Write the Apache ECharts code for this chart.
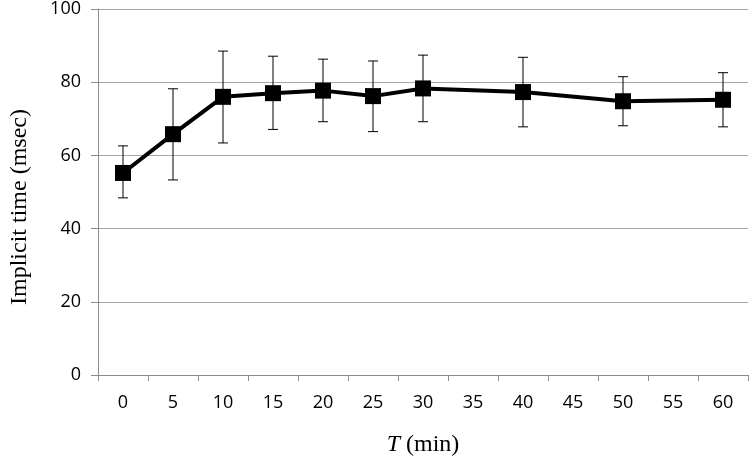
<!DOCTYPE html>
<html>
<head>
<meta charset="utf-8">
<script src="https://cdn.jsdelivr.net/npm/echarts@6/dist/echarts.min.js"></script>
<style>
  html, body { margin: 0; padding: 0; background: #fff; }
  #chart { width: 756px; height: 464px; }
</style>
</head>
<body>
<div id="chart"></div>
<script>
  // x categories (min) -- 35, 45, 55 have no measurement
  const categories = ['0', '5', '10', '15', '20', '25', '30', '35', '40', '45', '50', '55', '60'];
  const meanValues = [55.2, 65.8, 76.0, 77.0, 77.7, 76.2, 78.3, null, 77.3, null, 74.8, null, 75.2];
  const upperValues = [62.6, 78.2, 88.5, 87.1, 86.3, 85.8, 87.4, null, 86.8, null, 81.5, null, 82.6];
  const lowerValues = [48.4, 53.3, 63.4, 67.1, 69.2, 66.5, 69.2, null, 67.8, null, 68.1, null, 67.8];
  const yTicks = [0, 20, 40, 60, 80, 100];

  const errorData = [];
  categories.forEach((c, i) => {
    if (meanValues[i] != null) errorData.push([i, lowerValues[i], upperValues[i]]);
  });

  const chart = echarts.init(document.getElementById('chart'));

  const renderErrorBar = (params, api) => {
    const x = api.value(0);
    const lo = api.coord([x, api.value(1)]);
    const hi = api.coord([x, api.value(2)]);
    const half = 5;
    const style = { stroke: '#000', lineWidth: 1 };
    return {
      type: 'group',
      children: [
        { type: 'line', shape: { x1: hi[0], y1: hi[1], x2: lo[0], y2: lo[1] }, style },
        { type: 'line', shape: { x1: hi[0] - half, y1: hi[1], x2: hi[0] + half, y2: hi[1] }, style },
        { type: 'line', shape: { x1: lo[0] - half, y1: lo[1], x2: lo[0] + half, y2: lo[1] }, style }
      ]
    };
  };

  chart.setOption({
    animation: false,
    grid: {
      left: 98,
      right: 8,
      top: 9,
      bottom: 89
    },
    xAxis: {
      type: 'category',
      data: categories,
      boundaryGap: true,
      name: '{it|T} (min)',
      nameLocation: 'middle',
      nameGap: 58,
      nameTextStyle: {
        fontFamily: 'Liberation Serif',
        fontSize: 24,
        color: '#000',
        rich: {
          it: { fontFamily: 'Liberation Serif', fontStyle: 'italic', fontSize: 24, color: '#000' }
        }
      },
      axisLine: { show: true, lineStyle: { color: '#8c8c8c', width: 1 } },
      axisTick: { show: true, length: 6, lineStyle: { color: '#8c8c8c' } },
      axisLabel: {
        margin: 19,
        fontFamily: 'Open Sans',
        fontSize: 18,
        color: '#000'
      },
      splitLine: { show: false }
    },
    yAxis: {
      type: 'value',
      min: yTicks[0],
      max: yTicks[yTicks.length - 1],
      interval: 20,
      name: 'Implicit time (msec)',
      nameLocation: 'middle',
      nameGap: 66,
      nameTextStyle: {
        fontFamily: 'Liberation Serif',
        fontSize: 24,
        color: '#000',
        padding: [0, 30, 0, 0]
      },
      axisLine: { show: true, lineStyle: { color: '#8c8c8c', width: 1 } },
      axisTick: { show: true, inside: false, length: 7, lineStyle: { color: '#8c8c8c' } },
      axisLabel: {
        margin: 17,
        fontFamily: 'Open Sans',
        fontSize: 18,
        color: '#000'
      },
      splitLine: { show: true, lineStyle: { color: '#a6a6a6', width: 1 } }
    },
    series: [
      {
        type: 'custom',
        renderItem: renderErrorBar,
        data: errorData,
        encode: { x: 0, y: [1, 2] },
        z: 1
      },
      {
        type: 'line',
        data: meanValues,
        connectNulls: true,
        symbol: 'rect',
        symbolSize: 16,
        lineStyle: { color: '#000', width: 4 },
        itemStyle: { color: '#000' },
        z: 3
      }
    ]
  });
</script>
</body>
</html>
